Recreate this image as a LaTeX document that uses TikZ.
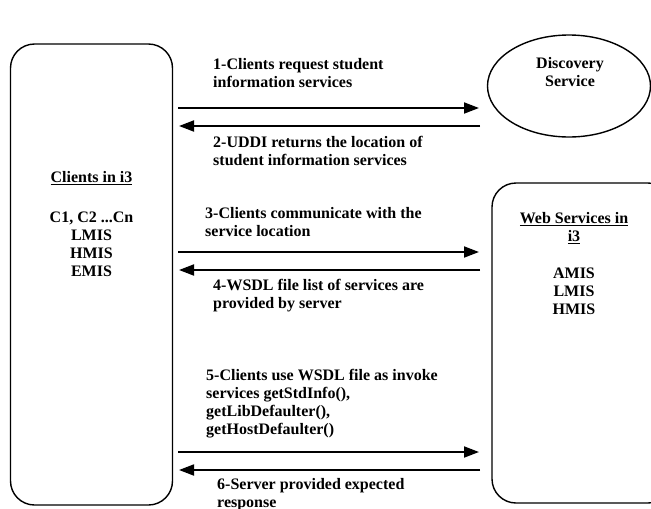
\documentclass[tikz,border=0pt]{standalone}
\usepackage{fontspec}
\setmainfont{Liberation Serif}
\usetikzlibrary{arrows.meta,shapes.geometric}
\begin{document}
\begin{tikzpicture}[x=1pt,y=-1pt,
  box/.style={draw,line width=1.4pt,rounded corners=24pt,rectangle},
  lbl/.style={anchor=north west,inner sep=0pt,align=left,font=\fontsize{16}{18}\selectfont\bfseries},
  ctr/.style={inner sep=0pt,align=center,font=\fontsize{16}{18}\selectfont\bfseries},
  msg/.style={line width=1.8pt,-{Triangle[length=15pt,width=11pt]}}]
\useasboundingbox (0,0) rectangle (651,509);
\clip (0,0) rectangle (651,509);
% nodes
\node[box,minimum width=162pt,minimum height=461pt] (cl) at (91.5,274.5) {};
\node[draw,line width=1.4pt,ellipse,minimum width=163pt,minimum height=102pt] (ds) at (569,86) {};
\node[box,minimum width=180pt,minimum height=320pt] (ws) at (582,343) {};
% texts in nodes
\node[ctr,anchor=north] (clt) at (91.5,171) {\underline{Clients in i3}\\[22pt]C1, C2 ...Cn\\LMIS\\HMIS\\EMIS};
\node[ctr,anchor=north] (dst) at (570,57) {Discovery\\Service};
\node[ctr,anchor=north] (wst) at (574,212) {\underline{Web Services in}\\\underline{i3}\\[19pt]AMIS\\LMIS\\HMIS};
% coordinates for message arrows
\coordinate (a1s) at (178,108); \coordinate (a1e) at (479,108);
\coordinate (a2s) at (480,126); \coordinate (a2e) at (179,126);
\coordinate (a3s) at (178,252); \coordinate (a3e) at (479,252);
\coordinate (a4s) at (480,270); \coordinate (a4e) at (179,270);
\coordinate (a5s) at (178,452); \coordinate (a5e) at (479,452);
\coordinate (a6s) at (480,470); \coordinate (a6e) at (179,470);
\draw[msg] (a1s) -- (a1e);
\draw[msg] (a2s) -- (a2e);
\draw[msg] (a3s) -- (a3e);
\draw[msg] (a4s) -- (a4e);
\draw[msg] (a5s) -- (a5e);
\draw[msg] (a6s) -- (a6e);
% labels
\node[lbl] (t1) at (213,58) {1-Clients request student\\information services};
\node[lbl] (t2) at (213,136) {2-UDDI returns the location of\\student information services};
\node[lbl] (t3) at (205,207) {3-Clients communicate with the\\service location};
\node[lbl] (t4) at (213,279) {4-WSDL file list of services are\\provided by server};
\node[lbl] (t5) at (206,369) {5-Clients use WSDL file as invoke\\services getStdInfo(),\\getLibDefaulter(),\\getHostDefaulter()};
\node[lbl] (t6) at (217,478) {6-Server provided expected\\response};
\end{tikzpicture}
\end{document}
